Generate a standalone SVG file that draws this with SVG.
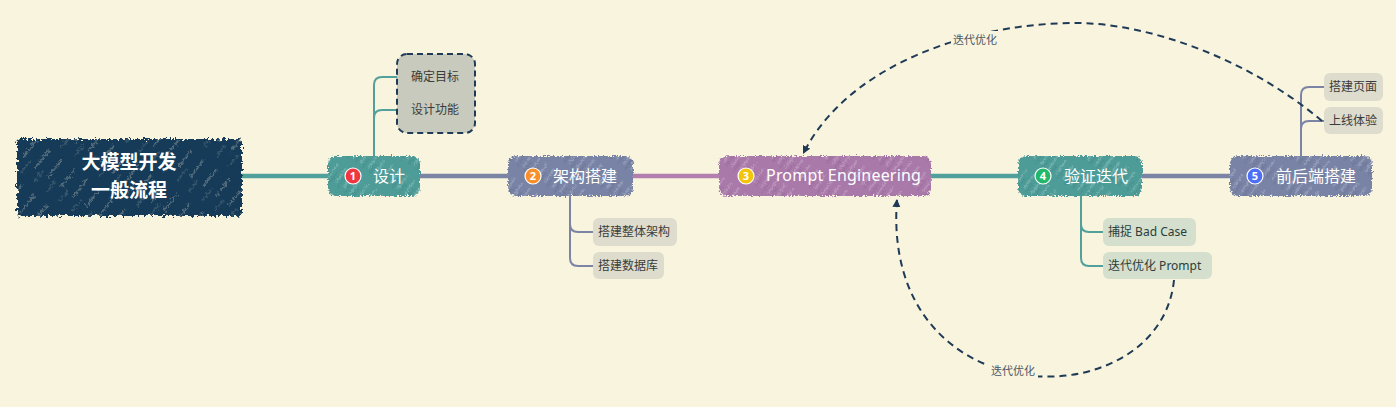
<svg xmlns="http://www.w3.org/2000/svg" width="1396" height="407" viewBox="0 0 1396 407">
<style>
.bg{fill:#f9f4de}
.main{fill:none;stroke-width:4.5}
.sub{fill:none;stroke-width:2}
.teal{stroke:#52a09c}
.slate{stroke:#7c84a6}
.purple{stroke:#b27fae}
.dash{fill:none;stroke:#1e3a56;stroke-width:2;stroke-dasharray:7 5}
.ntxt{font-family:"Noto Sans","Noto Sans CJK SC",sans-serif;font-size:16px;fill:#ffffff}
.num{font-family:"Noto Sans",sans-serif;font-size:11px;font-weight:bold;fill:#ffffff;text-anchor:middle}
.ltxt{font-family:"Noto Sans","Noto Sans CJK SC",sans-serif;font-size:12px;fill:#3b3b3b}
.gtxt{font-family:"Noto Sans","Noto Sans CJK SC",sans-serif;font-size:12px;fill:#2b3d3b}
.clab{font-family:"Noto Sans","Noto Sans CJK SC",sans-serif;font-size:11px;fill:#4a5866;text-anchor:middle}
.rtxt{font-family:"Noto Sans CJK SC",sans-serif;font-size:19px;font-weight:bold;fill:#ffffff;text-anchor:middle}
.leaf{fill:#dedccd}
.gleaf{fill:#d4e0cd}
</style>
<defs>
<filter id="rough" x="-5%" y="-15%" width="110%" height="130%">
<feTurbulence type="fractalNoise" baseFrequency="0.55" numOctaves="2" seed="3" result="n"/>
<feDisplacementMap in="SourceGraphic" in2="n" scale="5" xChannelSelector="R" yChannelSelector="G"/>
</filter>
<filter id="rough2" x="-5%" y="-15%" width="110%" height="130%">
<feTurbulence type="fractalNoise" baseFrequency="0.35" numOctaves="2" seed="7" result="n"/>
<feDisplacementMap in="SourceGraphic" in2="n" scale="8" xChannelSelector="R" yChannelSelector="G"/>
</filter>
<pattern id="hatch" width="9" height="30" patternUnits="userSpaceOnUse" patternTransform="rotate(35)">
<line x1="2" y1="0" x2="2" y2="30" stroke="#ffffff" stroke-opacity="0.35" stroke-width="1" stroke-dasharray="17 13"/>
<line x1="6" y1="8" x2="6" y2="30" stroke="#000000" stroke-opacity="0.07" stroke-width="1.5" stroke-dasharray="12 10"/>
</pattern>
<pattern id="hatch2" width="16" height="44" patternUnits="userSpaceOnUse" patternTransform="rotate(38)">
<line x1="3" y1="0" x2="3" y2="44" stroke="#e8e4cc" stroke-opacity="0.55" stroke-width="1" stroke-dasharray="22 22"/>
<line x1="11" y1="20" x2="11" y2="44" stroke="#e8e4cc" stroke-opacity="0.3" stroke-width="1" stroke-dasharray="14 30"/>
</pattern>
<marker id="arr" markerUnits="userSpaceOnUse" markerWidth="10" markerHeight="10" refX="8" refY="4" orient="auto">
<path d="M0,0 L8,4 L0,8 z" fill="#1e3a56"/>
</marker>
</defs>
<rect class="bg" x="0" y="0" width="1396" height="407"/>

<g id="connectors">
<path class="main teal" d="M240,176 H332"/>
<path class="main slate" d="M416,176 H512"/>
<path class="main purple" d="M630,176 H722"/>
<path class="main teal" d="M928,176 H1022"/>
<path class="main slate" d="M1138,176 H1234"/>
<path class="sub teal" d="M374,158 V85 Q374,77 382,77 H408 M374,118 Q374,110 382,110 H408"/>
<path class="sub slate" d="M570,194 V258 Q570,266 578,266 H594 M570,224 Q570,232 578,232 H594"/>
<path class="sub teal" d="M1081,194 V258 Q1081,266 1089,266 H1104 M1081,224 Q1081,232 1089,232 H1104"/>
<path class="sub slate" d="M1301,158 V95 Q1301,87 1309,87 H1325 M1301,129 Q1301,121 1309,121 H1325"/>
<path class="dash" d="M1322,121 C1250,60 1150,23 1075,23 C980,23 850,60 803,154" marker-end="url(#arr)"/>
<rect class="bg" x="951" y="31" width="49" height="17"/>
<text class="clab" x="975" y="44">迭代优化</text>
<path class="dash" d="M1174,280 C1160,420 880,420 897,199" marker-end="url(#arr)"/>
<rect class="bg" x="988" y="362" width="50" height="17"/>
<text class="clab" x="1013" y="375">迭代优化</text>
</g>

<g id="root">
<g filter="url(#rough2)">
<rect x="17" y="139" width="225" height="77" rx="4" fill="#173b59"/>
<rect x="17" y="139" width="225" height="77" rx="4" fill="url(#hatch2)"/>
</g>
<text class="rtxt" x="129" y="169">大模型开发</text>
<text class="rtxt" x="129" y="197">一般流程</text>
</g>

<g id="n1">
<g filter="url(#rough)">
<rect x="328" y="156" width="92" height="40" rx="8" fill="#4e9c98"/>
<rect x="328" y="156" width="92" height="40" rx="8" fill="url(#hatch)"/>
</g>
<circle cx="353" cy="176" r="8" fill="#f0363f" stroke="#ffffff" stroke-width="1.2"/>
<text class="num" x="353" y="180">1</text>
<text class="ntxt" x="373" y="182">设计</text>
</g>

<g id="n1-leaves">
<rect x="397" y="54" width="78" height="79" rx="10" fill="#c7cabc" stroke="#1f3b57" stroke-width="2" stroke-dasharray="6 4"/>
<text class="ltxt" x="411" y="81">确定目标</text>
<text class="ltxt" x="411" y="114">设计功能</text>
</g>

<g id="n2">
<g filter="url(#rough)">
<rect x="508" y="156" width="125" height="40" rx="8" fill="#7883a5"/>
<rect x="508" y="156" width="125" height="40" rx="8" fill="url(#hatch)"/>
</g>
<circle cx="533" cy="176" r="8" fill="#f7902b" stroke="#ffffff" stroke-width="1.2"/>
<text class="num" x="533" y="180">2</text>
<text class="ntxt" x="553" y="182">架构搭建</text>
</g>

<g id="n2-leaf1">
<rect class="leaf" x="593" y="218" width="84" height="28" rx="6"/>
<text class="ltxt" x="598" y="236">搭建整体架构</text>
</g>
<g id="n2-leaf2">
<rect class="leaf" x="593" y="252" width="71" height="27" rx="6"/>
<text class="ltxt" x="598" y="270">搭建数据库</text>
</g>

<g id="n3">
<g filter="url(#rough)">
<rect x="719" y="156" width="212" height="40" rx="8" fill="#a979aa"/>
<rect x="719" y="156" width="212" height="40" rx="8" fill="url(#hatch)"/>
</g>
<circle cx="746" cy="176" r="8" fill="#f2c40c" stroke="#ffffff" stroke-width="1.2"/>
<text class="num" x="746" y="180">3</text>
<text class="ntxt" x="766" y="181" letter-spacing="0.2">Prompt Engineering</text>
</g>

<g id="n4">
<g filter="url(#rough)">
<rect x="1018" y="156" width="124" height="40" rx="8" fill="#4e9c98"/>
<rect x="1018" y="156" width="124" height="40" rx="8" fill="url(#hatch)"/>
</g>
<circle cx="1043" cy="176" r="8" fill="#22b86b" stroke="#ffffff" stroke-width="1.2"/>
<text class="num" x="1043" y="180">4</text>
<text class="ntxt" x="1064" y="182">验证迭代</text>
</g>

<g id="n4-leaf1">
<rect class="gleaf" x="1103" y="218" width="93" height="28" rx="6"/>
<text class="gtxt" x="1108" y="236">捕捉 Bad Case</text>
</g>
<g id="n4-leaf2">
<rect class="gleaf" x="1103" y="252" width="109" height="27" rx="6"/>
<text class="gtxt" x="1108" y="270">迭代优化 Prompt</text>
</g>

<g id="n5">
<g filter="url(#rough)">
<rect x="1230" y="156" width="142" height="40" rx="8" fill="#7883a5"/>
<rect x="1230" y="156" width="142" height="40" rx="8" fill="url(#hatch)"/>
</g>
<circle cx="1255" cy="176" r="8" fill="#4f6ef7" stroke="#ffffff" stroke-width="1.2"/>
<text class="num" x="1255" y="180">5</text>
<text class="ntxt" x="1276" y="182">前后端搭建</text>
</g>

<g id="n5-leaf1">
<rect class="leaf" x="1324" y="73" width="59" height="28" rx="6"/>
<text class="ltxt" x="1329" y="91">搭建页面</text>
</g>
<g id="n5-leaf2">
<rect class="leaf" x="1324" y="107" width="59" height="27" rx="6"/>
<text class="ltxt" x="1329" y="125">上线体验</text>
</g>
</svg>
